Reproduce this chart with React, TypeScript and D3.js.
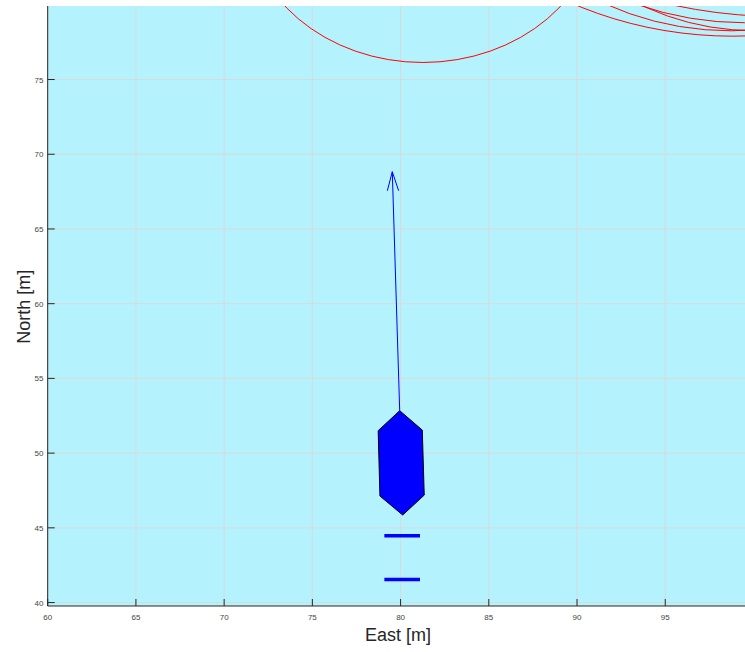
import React from "react";
import * as d3 from "d3";

const xTicks = [60, 65, 70, 75, 80, 85, 90, 95];
const yTicks = [40, 45, 50, 55, 60, 65, 70, 75];

// Safety circles (data units): centre east, centre north, radius
const circleEast = [81.26, 98.83, 98.74, 99.49, 100.06, 101.6];
const circleNorth = [86.12, 97.9, 93.28, 94.54, 91.17, 104.21];
const circleRadius = [9.98, 20, 15.02, 15.74, 12.9, 25];

// Ship hull polygon
const shipEast = [79.95, 81.23, 81.34, 80.12, 78.83, 78.73];
const shipNorth = [52.84, 51.54, 47.19, 45.86, 47.13, 51.5];

// Heading arrow: start, tip, barbs
const arrowEast = [79.95, 79.53];
const arrowNorth = [52.84, 68.83];
const barbEast = [79.25, 79.89];
const barbNorth = [67.56, 67.56];

// Horizontal thick markers
const markerEast = [79.08, 81.1];
const markerNorth = [44.47, 41.55];

const W = 745;
const H = 652;
const left = 47.7;
const right = 745;
const top = 6;
const bottom = 606;

export default function App() {
  const x = d3.scaleLinear().domain([60, 99.52]).range([left, right]);
  const y = d3.scaleLinear().domain([39.77, 79.92]).range([bottom, top]);
  const kx = x(1) - x(0);
  const ky = y(0) - y(1);
  const axisColor = "#262626";
  const gridColor = "#dadada";
  const shipPath =
    d3.line<number>()
      .x((_, i) => x(shipEast[i]))
      .y((_, i) => y(shipNorth[i]))(shipEast) + "Z";

  return (
    <svg
      width={W}
      height={H}
      style={{ position: "absolute", left: 0, top: 0, background: "#fff" }}
      fontFamily="'Liberation Sans', Arial, sans-serif"
    >
      <defs>
        <clipPath id="plotclip">
          <rect x={left} y={top} width={right - left} height={bottom - top} />
        </clipPath>
      </defs>
      <rect x={left} y={top} width={right - left} height={bottom - top} fill="#b4f2fd" />
      {/* grid */}
      <g stroke={gridColor} strokeWidth={1}>
        {xTicks.map((t) => (
          <line key={"gx" + t} x1={x(t)} x2={x(t)} y1={top} y2={bottom} />
        ))}
        {yTicks.map((t) => (
          <line key={"gy" + t} x1={left} x2={right} y1={y(t)} y2={y(t)} />
        ))}
      </g>
      <g clipPath="url(#plotclip)">
        {circleEast.map((cx, i) => (
          <ellipse
            key={"c" + i}
            cx={x(cx)}
            cy={y(circleNorth[i])}
            rx={circleRadius[i] * kx}
            ry={circleRadius[i] * ky}
            fill="none"
            stroke="#ff0000"
            strokeWidth={1}
          />
        ))}
        <line
          x1={x(arrowEast[0])}
          y1={y(arrowNorth[0])}
          x2={x(arrowEast[1])}
          y2={y(arrowNorth[1])}
          stroke="#0000ff"
          strokeWidth={1}
        />
        {barbEast.map((be, i) => (
          <line
            key={"b" + i}
            x1={x(arrowEast[1])}
            y1={y(arrowNorth[1])}
            x2={x(be)}
            y2={y(barbNorth[i])}
            stroke="#0000ff"
            strokeWidth={1}
          />
        ))}
        <path d={shipPath} fill="#0000ff" stroke="#000" strokeWidth={1} strokeLinejoin="miter" />
        {markerNorth.map((mn, i) => (
          <line
            key={"m" + i}
            x1={x(markerEast[0])}
            x2={x(markerEast[1])}
            y1={y(mn)}
            y2={y(mn)}
            stroke="#0000ff"
            strokeWidth={3.5}
          />
        ))}
      </g>
      {/* axes */}
      <line x1={left} x2={left} y1={top} y2={bottom} stroke={axisColor} strokeWidth={1} />
      <line x1={left} x2={right} y1={bottom} y2={bottom} stroke={axisColor} strokeWidth={1} />
      {xTicks.map((t) => (
        <g key={"xt" + t}>
          <line x1={x(t)} x2={x(t)} y1={bottom} y2={bottom - 7} stroke={axisColor} strokeWidth={1} />
          <text x={x(t)} y={619.5} fontSize={8} fill="#444" textAnchor="middle">
            {t}
          </text>
        </g>
      ))}
      {yTicks.map((t) => (
        <g key={"yt" + t}>
          <line x1={left} x2={left + 7} y1={y(t)} y2={y(t)} stroke={axisColor} strokeWidth={1} />
          <text x={43.5} y={y(t) + 3} fontSize={8} fill="#444" textAnchor="end">
            {t}
          </text>
        </g>
      ))}
      <text x={398} y={641} fontSize={18} fill="#262626" textAnchor="middle">
        East [m]
      </text>
      <text
        transform={`translate(30,306.7) rotate(-90)`}
        fontSize={18}
        fill="#262626"
        textAnchor="middle"
      >
        North [m]
      </text>
    </svg>
  );
}
